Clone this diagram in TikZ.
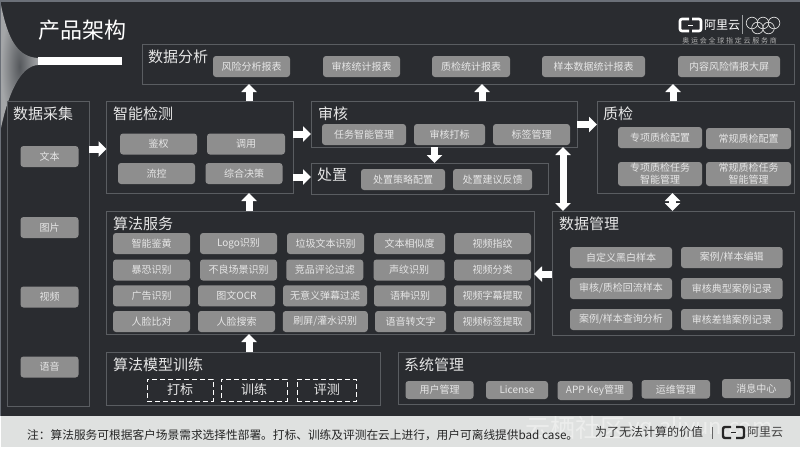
\documentclass[tikz,border=0pt]{standalone}
\usepackage{fontspec}
\setmainfont{Noto Sans CJK SC}
\usetikzlibrary{arrows.meta}
\definecolor{slide}{HTML}{2A2C30}
\definecolor{edgeline}{HTML}{5A5D61}
\definecolor{tagfill}{HTML}{8E8E8E}
\definecolor{tagtext}{HTML}{E6E6E6}
\definecolor{foot}{HTML}{DFE1E0}
\definecolor{rim}{HTML}{6B7078}
\definecolor{hornin}{HTML}{55585C}
\definecolor{hornout}{HTML}{A4A6A8}
\tikzset{
	panel/.style = {draw=edgeline, line width=1pt, inner sep=0pt, outer sep=0pt},
	heading/.style = {anchor=west, inner sep=0pt, text=tagtext, font=\fontsize{15}{17}\selectfont},
	tag/.style = {fill=tagfill, rounded corners=3pt, inner sep=0pt, outer sep=0pt, minimum height=21pt, text=tagtext, align=center, font=\fontsize{10}{12}\selectfont},
	dashbox/.style = {draw=white, dashed, line width=1pt, dash pattern=on 5pt off 3pt, inner sep=0pt, minimum height=22pt, text=tagtext, font=\fontsize{13}{15}\selectfont},
	fatarrow/.style = {draw=white, line width=7pt, -{Triangle[width=15pt,length=8pt]}},
	fatboth/.style = {draw=white, line width=7pt, {Triangle[width=15pt,length=8pt]}-{Triangle[width=15pt,length=8pt]}}
}
\begin{document}
\begin{tikzpicture}[x=1pt,y=-1pt]
	\useasboundingbox (0,0) rectangle (800,450);
	% slide
	\fill[white] (0,0) rectangle (800,450);
	\fill[rim] (0,0) rectangle (800,416);
	\fill[slide] (1,2) rectangle (800,416);
	\fill[foot] (1,416) rectangle (800,447);
	% corner and title
	\shade[inner color=hornin, outer color=hornout] (1,5) .. controls (8,40) and (18,57) .. (38,58) -- (38,65) .. controls (20,66) and (8,95) .. (1,128) -- cycle;
	\fill[white] (38,57) rectangle (122,65);
	\node[inner sep=0pt, anchor=west, text=white, font=\fontsize{22}{24}\selectfont] (title) at (38,30) {产品架构};
	% logo
	\draw[white, line width=2.6pt, rounded corners=2pt] (689,19) -- (680,19) -- (680,31) -- (689,31);
	\draw[white, line width=2.6pt, rounded corners=2pt] (692,19) -- (701,19) -- (701,31) -- (692,31);
	\draw[white, line width=.8pt] (688,25) -- (693,25);
	\node[inner sep=0pt, anchor=west, text=white, font=\fontsize{12}{14}\selectfont] (brand) at (704,25) {阿里云};
	\draw[edgeline!60!white, line width=.6pt] (742,15) -- (742,34);
	\foreach \rx/\ry in {752/23,763/23,774/23,757.5/28,768.5/28}
		\draw[white!85!black, line width=.7pt] (\rx,\ry) circle (5.8pt);
	\node[inner sep=0pt, text=white!70!black, font=\fontsize{7}{8}\selectfont\addfontfeature{LetterSpace=25}] (motto) at (729.5,41) {奥运会全球指定云服务商};
	% panels
	\node[panel, minimum width=652pt, minimum height=40pt] (analysis) at (468.5,64) {};
	\node[panel, minimum width=82pt, minimum height=305pt] (collect) at (48,253.5) {};
	\node[panel, minimum width=186.5pt, minimum height=92pt] (detect) at (199.75,147) {};
	\node[panel, minimum width=266pt, minimum height=46pt] (audit) at (444,124) {};
	\node[panel, minimum width=237pt, minimum height=31pt] (dispose) at (429.5,178.5) {};
	\node[panel, minimum width=197pt, minimum height=92pt] (quality) at (695.5,147) {};
	\node[panel, minimum width=427.5pt, minimum height=123pt] (service) at (320.25,272.5) {};
	\node[panel, minimum width=242pt, minimum height=124pt] (datamgr) at (673,273) {};
	\node[panel, minimum width=273.5pt, minimum height=53pt] (train) at (243.25,378.5) {};
	\node[panel, minimum width=396pt, minimum height=52pt] (system) at (596,378) {};
	% headings
	\node[heading] (h-analysis) at (148,57) {数据分析};
	\node[heading] (h-collect) at (13,114) {数据采集};
	\node[heading] (h-detect) at (113,114) {智能检测};
	\node[heading] (h-audit) at (318,114) {审核};
	\node[heading] (h-dispose) at (317,175) {处置};
	\node[heading] (h-quality) at (603,114) {质检};
	\node[heading] (h-service) at (113,224) {算法服务};
	\node[heading] (h-datamgr) at (559,224) {数据管理};
	\node[heading] (h-train) at (113,365) {算法模型训练};
	\node[heading] (h-system) at (404,365) {系统管理};
	% data analysis
	\node[tag, minimum width=77pt] (risk) at (251.5,66.5) {风险分析报表};
	\node[tag, minimum width=77pt] (auditstat) at (361.5,66.5) {审核统计报表};
	\node[tag, minimum width=78pt] (qualitystat) at (471,66.5) {质检统计报表};
	\node[tag, minimum width=103pt] (samplestat) at (593.5,66.5) {样本数据统计报表};
	\node[tag, minimum width=102pt] (screen) at (729,66.5) {内容风险情报大屏};
	% data collection
	\node[tag, minimum width=58pt] (text) at (49.5,156.5) {文本};
	\node[tag, minimum width=58pt] (image) at (49.5,227.5) {图片};
	\node[tag, minimum width=58pt] (video) at (49.5,297) {视频};
	\node[tag, minimum width=58pt] (voice) at (49.5,367) {语音};
	% detection
	\node[tag, minimum width=77pt] (authz) at (158.5,144) {鉴权};
	\node[tag, minimum width=78pt] (invoke) at (246,144) {调用};
	\node[tag, minimum width=77pt] (flow) at (156.5,173.5) {流控};
	\node[tag, minimum width=77pt] (decide) at (244,173.5) {综合决策};
	% audit
	\node[tag, minimum width=84pt] (taskmgr) at (364,134.5) {任务智能管理};
	\node[tag, minimum width=71pt] (mark) at (449.5,134.5) {审核打标};
	\node[tag, minimum width=77pt] (label) at (531.5,134.5) {标签管理};
	% disposal
	\node[tag, minimum width=84pt] (policy) at (403,179.5) {处置策略配置};
	\node[tag, minimum width=79pt] (feedback) at (492.5,179.5) {处置建议反馈};
	% quality
	\node[tag, minimum width=84pt] (qspecial) at (660,137.5) {专项质检配置};
	\node[tag, minimum width=85pt] (qnormal) at (748.5,138.5) {常规质检配置};
	\node[tag, minimum width=84pt, minimum height=24pt] (tspecial) at (660,174) {专项质检任务\\智能管理};
	\node[tag, minimum width=85pt, minimum height=24pt] (tnormal) at (748.5,174) {常规质检任务\\智能管理};
	% algorithm service
	\node[tag, minimum width=77pt] (s11) at (151.5,243.5) {智能鉴黄};
	\node[tag, minimum width=77pt] (s12) at (238.5,243.5) {Logo识别};
	\node[tag, minimum width=77pt] (s13) at (325.5,243.5) {垃圾文本识别};
	\node[tag, minimum width=71pt] (s14) at (409.5,243.5) {文本相似度};
	\node[tag, minimum width=77pt] (s15) at (492.5,243.5) {视频指纹};
	\node[tag, minimum width=77pt] (s21) at (151.5,270) {暴恐识别};
	\node[tag, minimum width=77pt] (s22) at (238.5,270) {不良场景识别};
	\node[tag, minimum width=77pt] (s23) at (324.75,270) {竞品评论过滤};
	\node[tag, minimum width=71pt] (s24) at (409,270) {声纹识别};
	\node[tag, minimum width=77pt] (s25) at (492.5,270) {视频分类};
	\node[tag, minimum width=77pt] (s31) at (151.5,295.75) {广告识别};
	\node[tag, minimum width=77pt] (s32) at (236.5,295.75) {图文OCR};
	\node[tag, minimum width=84pt] (s33) at (325,295.75) {无意义弹幕过滤};
	\node[tag, minimum width=72pt] (s34) at (410,295.75) {语种识别};
	\node[tag, minimum width=77pt] (s35) at (492.5,295.75) {视频字幕提取};
	\node[tag, minimum width=77pt] (s41) at (151.5,321.5) {人脸比对};
	\node[tag, minimum width=77pt] (s42) at (236.5,321.5) {人脸搜索};
	\node[tag, minimum width=85pt] (s43) at (325.25,321.5) {刷屏/灌水识别};
	\node[tag, minimum width=71pt] (s44) at (410.5,321.5) {语音转文字};
	\node[tag, minimum width=77pt] (s45) at (492.5,321.5) {视频标签提取};
	% data management
	\node[tag, minimum width=102pt] (m11) at (621,257.5) {自定义黑白样本};
	\node[tag, minimum width=101.5pt] (m12) at (731.75,257.5) {案例/样本编辑};
	\node[tag, minimum width=102pt] (m21) at (621,288.5) {审核/质检回流样本};
	\node[tag, minimum width=101.5pt] (m22) at (731.75,288.5) {审核典型案例记录};
	\node[tag, minimum width=102pt] (m31) at (621,319.5) {案例/样本查询分析};
	\node[tag, minimum width=101.5pt] (m32) at (731.75,319.5) {审核差错案例记录};
	% model training
	\node[dashbox, minimum width=66pt] (tagging) at (180,390) {打标};
	\node[dashbox, minimum width=66pt] (training) at (254,390) {训练};
	\node[dashbox, minimum width=59.5pt] (testing) at (326.75,390) {评测};
	% system management
	\node[tag, minimum width=68pt, minimum height=18pt] (users) at (439.5,390) {用户管理};
	\node[tag, minimum width=62pt, minimum height=18pt] (license) at (517,390) {License};
	\node[tag, minimum width=75pt, minimum height=19pt] (appkey) at (595,390.5) {APP Key管理};
	\node[tag, minimum width=68.5pt, minimum height=18.5pt] (ops) at (675.75,389.25) {运维管理};
	\node[tag, minimum width=68.5pt, minimum height=19pt] (message) at (756.25,388.5) {消息中心};
	% arrows
	\draw[fatarrow] (detect.north -| 249,0) -- (analysis.south -| 249,0);
	\draw[fatarrow] (audit.north -| 482,0) -- (analysis.south -| 482,0);
	\draw[fatarrow] (quality.north -| 673,0) -- (analysis.south -| 673,0);
	\draw[fatarrow] (collect.east |- 0,149) -- (detect.west |- 0,149);
	\draw[fatarrow] (detect.east |- 0,134) -- (audit.west |- 0,134);
	\draw[fatarrow] (detect.east |- 0,177) -- (dispose.west |- 0,177);
	\draw[fatarrow] (service.north -| 249,0) -- (detect.south -| 249,0);
	\draw[fatarrow] (audit.south -| 434.5,0) -- (dispose.north -| 434.5,0);
	\draw[fatarrow] (audit.east |- 0,124.5) -- (quality.west |- 0,124.5);
	\draw[fatboth] (quality.south -| 672.5,0) -- (datamgr.north -| 672.5,0);
	\draw[fatboth] (audit.south -| 563,0) -- (datamgr.north -| 563,0);
	\draw[fatarrow] (datamgr.west |- 0,274) -- (service.east |- 0,274);
	\draw[fatarrow] (train.north -| 249,0) -- (service.south -| 249,0);
	% footer
	\node[inner sep=0pt, anchor=west, text=white!40!foot, font=\fontsize{25}{27}\selectfont] (mark-cn) at (525,428) {云栖社区};
	\node[inner sep=0pt, anchor=west, text=white!40!foot, font=\fontsize{22}{24}\selectfont] (mark-en) at (628,428) {yq.aliyun.com};
	\node[inner sep=0pt, anchor=west, text=black!85, font=\fontsize{11.7}{13}\selectfont] (note) at (27,435) {注：算法服务可根据客户场景需求选择性部署。打标、训练及评测在云上进行，用户可离线提供bad case。};
	\node[inner sep=0pt, anchor=west, text=black!80, font=\fontsize{12}{14}\selectfont] (slogan) at (595,432) {为了无法计算的价值};
	\draw[black!60, line width=.6pt] (712,427) -- (712,439);
	\draw[black!85, line width=2.4pt, rounded corners=2pt] (731,427) -- (723,427) -- (723,438) -- (731,438);
	\draw[black!85, line width=2.4pt, rounded corners=2pt] (736,427) -- (744,427) -- (744,438) -- (736,438);
	\draw[black!85, line width=.7pt] (731,432.5) -- (736,432.5);
	\node[inner sep=0pt, anchor=west, text=black!75, font=\fontsize{12}{14}\selectfont] (brand-foot) at (747,432.5) {阿里云};
\end{tikzpicture}
\end{document}
